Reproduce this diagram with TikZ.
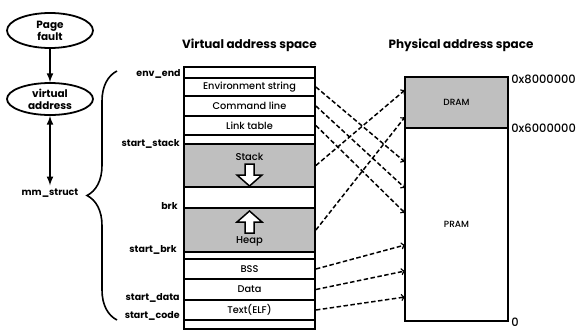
\documentclass[tikz,border=0pt]{standalone}
\usepackage{fontspec}
\setmainfont{Poppins}[UprightFont={* Medium}, BoldFont={* Bold}]
\usetikzlibrary{arrows,shapes.geometric,decorations.pathreplacing}
\usetikzlibrary{math}

\tikzset{
	row/.style={draw, line width=1.8pt, minimum width=131bp, inner sep=0pt,
		font=\fontsize{9.8}{10}\selectfont},
	oval/.style={ellipse, draw, line width=1.8pt, minimum width=86bp, inner sep=0pt,
		align=center, font=\bfseries\fontsize{10.5}{12}\selectfont},
	addr/.style={anchor=east, inner sep=1pt, font=\bfseries\fontsize{9.5}{10}\selectfont},
	hex/.style={anchor=west, inner sep=1pt, font=\fontsize{11.5}{12}\selectfont},
	map/.style={dashed, dash pattern=on 4.5pt off 2.5pt, line width=1.5pt, -to},
	title/.style={font=\bfseries\fontsize{12}{14}\selectfont}
}

\begin{document}
\begin{tikzpicture}[x=1bp, y=-1bp, thick, >= latex]

\useasboundingbox (0,0) rectangle (582,332);

\tikzmath{
	real \vx, \px;
	\vx = 249.5;
	\px = 456.5;
}

\node[title] (vtitle) at (\vx,45) {Virtual address space};
\node[title] (ptitle) at (461,45) {Physical address space};

\foreach \name/\top/\bot/\txt/\col in {
		vtop/67/78//white,
		env/78/96/Environment string/white,
		cmd/96/116/Command line/white,
		link/116/135/Link table/white,
		gapa/135/144//white,
		stack/144/187//gray!50,
		gapb/187/208//white,
		heap/208/252//gray!50,
		gapc/252/259//white,
		bss/259/279/BSS/white,
		data/279/300/Data/white,
		text/300/320/Text(ELF)/white,
		vbot/320/329//white}{
	\pgfmathsetmacro\h{\bot-\top}
	\pgfmathsetmacro\m{(\top+\bot)/2}
	\node[row, fill=\col, minimum height=\h bp] (\name) at (\vx,\m) {\txt};
}

\node[font=\fontsize{10}{11}\selectfont] (stacktxt) at (\vx,157) {Stack};
\node[font=\fontsize{10}{11}\selectfont] (heaptxt) at (\vx,241) {Heap};
\draw[fill=white, line width=1.5pt] (245,164) -- (254,164) -- (254,175) -- (262,175)
	-- (\vx,186) -- (237,175) -- (245,175) -- cycle;
\draw[fill=white, line width=1.5pt] (245,233) -- (254,233) -- (254,222) -- (262,222)
	-- (\vx,211) -- (237,222) -- (245,222) -- cycle;

\node[draw, line width=1.8pt, fill=gray!50, minimum width=103bp, minimum height=51bp,
	font=\fontsize{9}{10}\selectfont] (dram) at (\px,102.5) {DRAM};
\node[draw, line width=1.8pt, minimum width=103bp, minimum height=193bp,
	font=\fontsize{9}{10}\selectfont] (pram) at (\px,224.5) {PRAM};

\node[hex] (hi) at (510,79) {0x8000000};
\node[hex] (mid) at (510,128) {0x6000000};
\node[hex] (lo) at (510,322) {0};

\coordinate (qenv) at (405,162);
\coordinate (qcmd) at (405,188);
\coordinate (qlink) at (405,213);
\coordinate (qstack) at (405,90);
\coordinate (qheap) at (405,117);
\coordinate (qbss) at (405,245);
\coordinate (qdata) at (405,271);
\coordinate (qtext) at (405,297);

\foreach \name in {env,cmd,link,stack,heap,bss,data,text}{
	\draw[map] (\name.east) -- (q\name);
}

\node[addr] (envend) at (182,74) {env\_end};
\node[addr] (sstack) at (181,144) {start\_stack};
\node[addr] (brk) at (179,206) {brk};
\node[addr] (sbrk) at (178,250) {start\_brk};
\node[addr] (sdata) at (181,298) {start\_data};
\node[addr] (scode) at (181,316) {start\_code};

\node[oval, minimum height=35bp] (fault) at (50,30.5) {Page\\fault};
\node[oval, minimum height=32bp] (vaddr) at (50,99) {virtual\\address};
\node[font=\bfseries\fontsize{9.5}{10}\selectfont, inner sep=3pt] (mm) at (50,193) {mm\_struct};

\draw[->, line width=2pt] (fault) -- (vaddr);
\draw[<->, line width=2pt] (vaddr) -- (mm);

\draw[line width=1.6pt, decorate, decoration={brace, amplitude=30bp}]
	(117,320) -- (117,71);

\end{tikzpicture}
\end{document}
